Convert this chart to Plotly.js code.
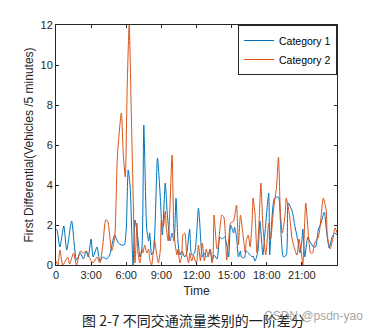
<!DOCTYPE html>
<html>
<head>
<meta charset="utf-8">
<script src="https://cdn.plot.ly/plotly-3.0.1.min.js"></script>
<style>html,body{margin:0;padding:0;background:#fff;}#chart{width:376px;height:333px;}</style>
</head>
<body>
<div id="chart"></div>
<script>
// sample index (5-minute steps) and value
const cat1Step = [0,1,4,8,11,16,21,25,28,31,33,36,38,42,45,48,52,55,60,64,67,70,72,74,76,79,81,84,86,88,90,93,95,96,98,100,104,107,109,112,114,117,119,121,123,125,127,129,132,134,137,139,142,146,149,150,152,154,156,158,160,162,165,168,170,173,175,177,179,182,183,185,187,189,190,193,195,199,201,202,204,207,209,212,214,218,219,221,224,228,230,233,236,238,242,245,248,250,252,253,255,258,260,264,266,269,271,275,277,280,283,286,288];
const cat1Val = [1.8,1.75,0.9,1.95,0.75,2.2,0.25,0.6,0.3,0.7,0.4,1.3,0.4,0.9,0.2,0.4,0.3,0.5,1.5,1.1,1.0,1.0,1.8,4.75,3.9,0.0,2.25,1.3,0.4,0.8,7.0,1.8,1.2,1.6,0.5,0.7,5.35,3.3,1.5,4.1,2.6,1.2,1.6,1.2,3.35,1.2,0.5,0.7,0.4,0.6,1.8,0.5,0.6,2.85,0.75,0.4,0.6,0.4,0.5,0.8,0.2,0.5,0.3,1.4,1.3,1.4,1.0,0.4,2.0,1.6,1.9,1.4,0.4,0.7,0.4,0.35,0.7,0.5,0.4,0.45,0.2,0.7,2.2,0.5,1.5,3.6,0.5,2.1,3.35,3.4,2.2,0.4,0.5,3.1,2.7,1.9,1.2,0.6,1.2,1.8,0.4,1.4,1.2,0.9,0.9,1.8,2.0,2.65,1.8,0.85,1.4,1.6,1.5];

const cat2Step = [0,2,4,7,12,14,18,21,25,28,31,35,38,42,45,48,51,53,57,60,63,67,69,71,73,75,77,79,81,83,84,86,88,89,91,93,95,96,98,100,101,103,105,107,108,110,112,113,115,119,121,124,125,127,129,130,132,134,136,137,139,141,142,144,146,148,150,152,154,156,158,160,161,162,165,166,170,172,175,177,179,182,185,187,189,191,194,195,197,199,201,202,204,206,208,210,212,215,218,220,223,226,228,230,232,235,236,239,242,244,247,249,252,253,256,259,261,263,265,269,271,274,277,278,281,284,286,288];
const cat2Val = [0.2,0.0,0.75,0.0,0.4,0.05,0.6,0.0,0.7,0.6,0.7,0.3,0.1,0.4,0.1,1.0,2.25,2.2,0.7,1.3,5.5,7.6,5.5,4.4,9.0,12.0,8.0,3.6,0.1,2.1,0.6,0.1,0.8,0.6,1.0,0.6,0.8,0.3,0.0,0.8,1.25,0.6,0.1,0.8,2.25,1.9,2.7,1.9,1.2,5.5,1.5,0.5,0.8,0.1,0.5,1.5,1.6,0.5,0.1,0.6,0.2,0.5,0.3,0.1,1.0,0.2,1.1,0.2,0.8,0.4,0.8,0.1,0.5,2.5,0.8,0.9,2.5,2.4,0.25,1.3,2.1,2.2,3.0,1.0,2.5,1.8,0.6,1.2,1.5,0.9,2.2,3.35,2.5,0.6,2.0,4.1,2.0,0.5,2.1,1.3,2.8,3.9,5.4,2.6,1.6,2.6,3.35,2.6,1.3,0.9,0.5,1.3,0.4,0.0,3.1,1.3,0.6,0.6,1.1,1.4,2.1,3.35,2.7,1.5,0.8,1.4,1.85,1.6];

const tickHours = [0,3,6,9,12,15,18,21,24];
const tickLabels = ['0','3:00','6:00','9:00','12:00','15:00','18:00','21:00',''];
const yTicks = [0,2,4,6,8,10,12];

const toHours = s => s.map(v => v / 12);

const font = 'Liberation Sans, Arial, sans-serif';
const axisCommon = {
  showline: true, linecolor: '#262626', linewidth: 1, mirror: 'ticks',
  ticks: 'inside', ticklen: 3, tickcolor: '#262626', tickwidth: 1,
  showgrid: false, zeroline: false, automargin: false,
  tickfont: {family: font, size: 11, color: '#262626'}
};

const traces = [
  {x: toHours(cat1Step), y: cat1Val, name: 'Category 1', type: 'scatter', mode: 'lines',
   line: {color: '#0072BD', width: 1, shape: 'spline', smoothing: 0.6}},
  {x: toHours(cat2Step), y: cat2Val, name: 'Category 2', type: 'scatter', mode: 'lines',
   line: {color: '#D95319', width: 1, shape: 'spline', smoothing: 0.6}}
];

const layout = {
  width: 376, height: 333,
  margin: {l: 56, r: 39, t: 25, b: 68},
  paper_bgcolor: '#fff', plot_bgcolor: '#fff',
  showlegend: true,
  legend: {x: 1, xanchor: 'right', y: 1, yanchor: 'top', bgcolor: '#fff',
           bordercolor: '#262626', borderwidth: 1,
           font: {family: font, size: 10.5, color: '#000'},
           tracegroupgap: 0, itemwidth: 30},
  xaxis: Object.assign({}, axisCommon, {
    range: [0, 24], tickmode: 'array', tickvals: tickHours, ticktext: tickLabels,
    title: {text: 'Time', font: {family: font, size: 12, color: '#262626'}, standoff: 6}
  }),
  yaxis: Object.assign({}, axisCommon, {
    range: [0, 12], tickmode: 'array', tickvals: yTicks,
    title: {text: 'First Differential(Vehicles /5 minutes)', font: {family: font, size: 12, color: '#262626'}, standoff: 4}
  }),
  annotations: [
    {text: '图 2-7 不同交通流量类别的一阶差分', xref: 'paper', yref: 'paper', x: 0.49, y: -0.229,
     xanchor: 'center', yanchor: 'middle', showarrow: false,
     font: {family: 'Noto Sans CJK SC, sans-serif', size: 14, color: '#222'}},
    {text: 'CSDN @psdn-yao', xref: 'paper', yref: 'paper', x: 0.918, y: -0.212,
     xanchor: 'center', yanchor: 'middle', showarrow: false,
     font: {family: font, size: 12, color: 'rgba(140,140,140,0.8)'}}
  ]
};

Plotly.newPlot('chart', traces, layout, {staticPlot: true, displayModeBar: false});
</script>
</body>
</html>
